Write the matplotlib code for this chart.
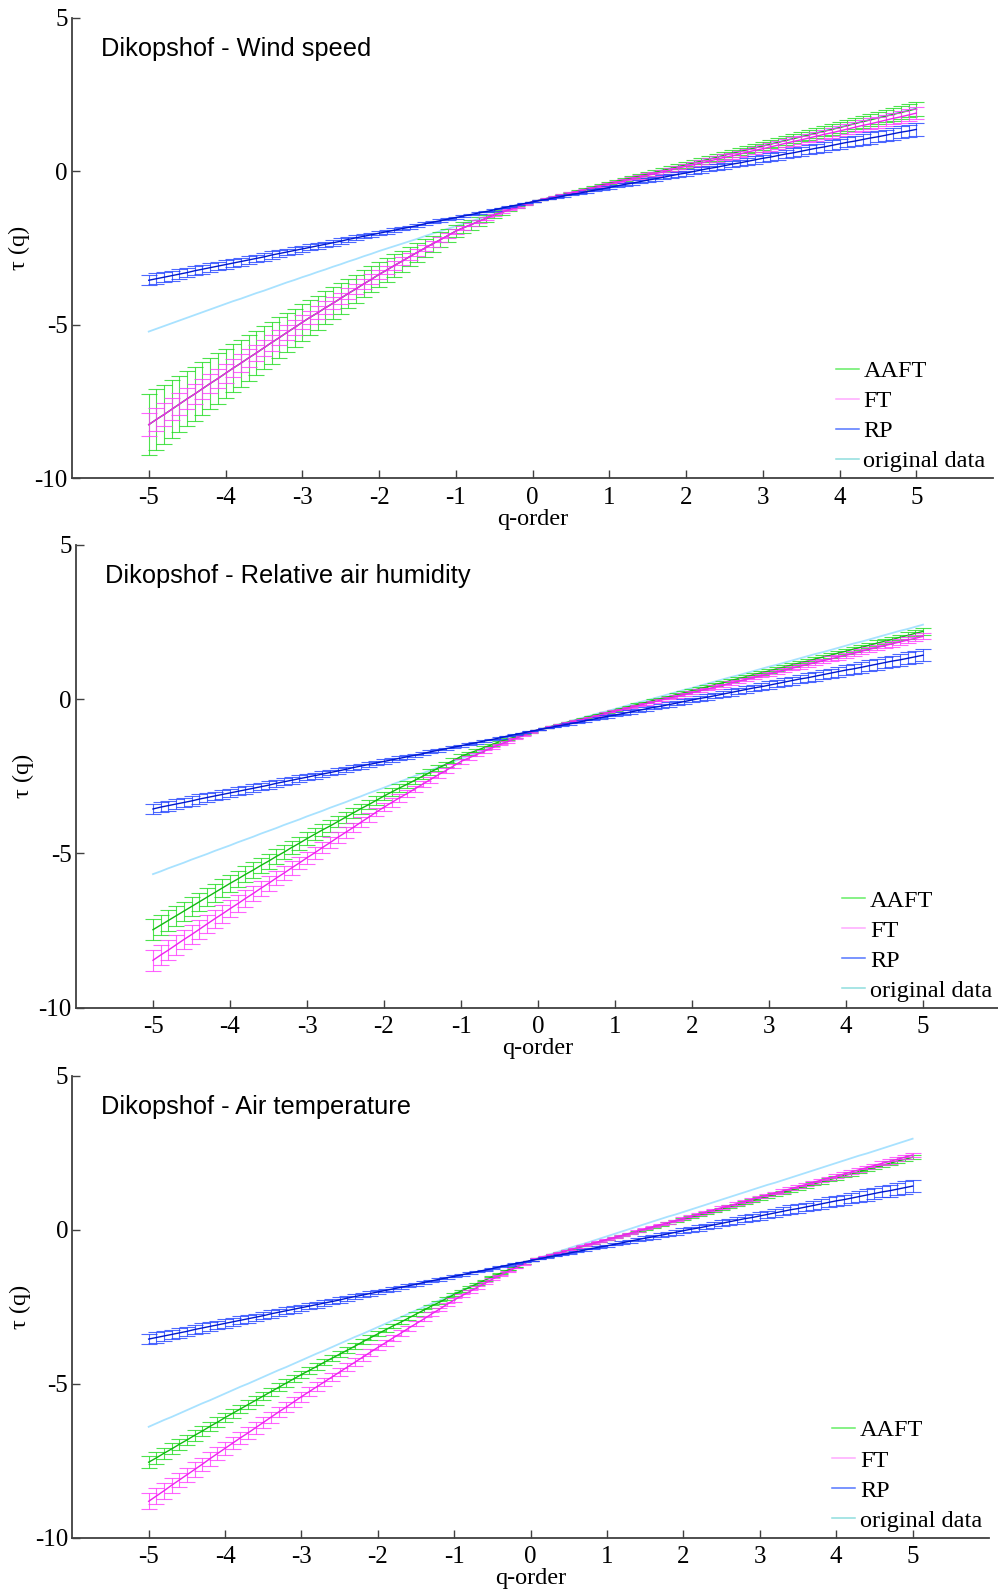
import numpy as np
import matplotlib
matplotlib.use("Agg")
import matplotlib.pyplot as plt
from matplotlib.lines import Line2D
from matplotlib.colors import to_rgba

plt.rcParams['font.family'] = ['Liberation Serif', 'DejaVu Serif']
plt.rcParams['axes.unicode_minus'] = False

# q-order grid (-5 ... 5, step 0.1)
q_order = np.linspace(-5, 5, 101)

panel_titles = ['Dikopshof - Wind speed',
                'Dikopshof - Relative air humidity',
                'Dikopshof - Air temperature']
legend_labels = ['AAFT', 'FT', 'RP', 'original data']
x_ticks = [-5, -4, -3, -2, -1, 0, 1, 2, 3, 4, 5]
y_ticks = [-10, -5, 0, 5]

# ---------------- Panel 1 : Wind speed ----------------
tau_aaft_wind = [
    -8.25, -8.08, -7.92, -7.75, -7.58, -7.41, -7.25, -7.08, -6.91, -6.75,
    -6.58, -6.41, -6.25, -6.08, -5.92, -5.75, -5.58, -5.42, -5.25, -5.09,
    -4.92, -4.76, -4.61, -4.45, -4.30, -4.14, -3.98, -3.83, -3.67, -3.52,
    -3.36, -3.22, -3.07, -2.93, -2.78, -2.64, -2.50, -2.36, -2.23, -2.09,
    -1.95, -1.84, -1.74, -1.63, -1.53, -1.42, -1.34, -1.25, -1.17, -1.08,
    -1.00, -0.94, -0.88, -0.82, -0.76, -0.70, -0.64, -0.58, -0.52, -0.45,
    -0.39, -0.33, -0.27, -0.21, -0.15, -0.09, -0.03, 0.03, 0.09, 0.15,
    0.21, 0.27, 0.33, 0.39, 0.45, 0.52, 0.58, 0.64, 0.70, 0.76,
    0.82, 0.88, 0.94, 1.00, 1.06, 1.12, 1.18, 1.24, 1.30, 1.36,
    1.42, 1.48, 1.55, 1.61, 1.67, 1.73, 1.79, 1.85, 1.91, 1.97,
    2.03]
tau_ft_wind = [
    -8.25, -8.08, -7.92, -7.75, -7.58, -7.41, -7.25, -7.08, -6.91, -6.75,
    -6.58, -6.41, -6.25, -6.08, -5.92, -5.75, -5.58, -5.42, -5.25, -5.09,
    -4.92, -4.76, -4.61, -4.45, -4.30, -4.14, -3.98, -3.83, -3.67, -3.52,
    -3.36, -3.22, -3.07, -2.93, -2.78, -2.64, -2.50, -2.36, -2.23, -2.09,
    -1.95, -1.84, -1.74, -1.63, -1.53, -1.42, -1.34, -1.25, -1.17, -1.08,
    -1.00, -0.94, -0.88, -0.83, -0.77, -0.71, -0.65, -0.60, -0.54, -0.48,
    -0.42, -0.36, -0.31, -0.25, -0.19, -0.13, -0.08, -0.02, 0.04, 0.10,
    0.16, 0.21, 0.27, 0.33, 0.39, 0.45, 0.50, 0.56, 0.62, 0.68,
    0.73, 0.79, 0.85, 0.91, 0.97, 1.02, 1.08, 1.14, 1.20, 1.25,
    1.31, 1.37, 1.43, 1.49, 1.54, 1.60, 1.66, 1.72, 1.77, 1.83,
    1.89]
tau_rp_wind = [
    -3.55, -3.50, -3.45, -3.40, -3.35, -3.30, -3.24, -3.19, -3.14, -3.09,
    -3.04, -2.99, -2.94, -2.89, -2.84, -2.79, -2.73, -2.68, -2.63, -2.58,
    -2.53, -2.48, -2.43, -2.38, -2.33, -2.28, -2.22, -2.17, -2.12, -2.07,
    -2.02, -1.97, -1.92, -1.87, -1.82, -1.77, -1.71, -1.66, -1.61, -1.56,
    -1.51, -1.46, -1.41, -1.36, -1.31, -1.26, -1.20, -1.15, -1.10, -1.05,
    -1.00, -0.95, -0.91, -0.86, -0.81, -0.76, -0.72, -0.67, -0.62, -0.58,
    -0.53, -0.48, -0.43, -0.39, -0.34, -0.29, -0.25, -0.20, -0.15, -0.10,
    -0.06, -0.01, 0.04, 0.09, 0.13, 0.18, 0.23, 0.27, 0.32, 0.37,
    0.42, 0.46, 0.51, 0.56, 0.60, 0.65, 0.70, 0.75, 0.79, 0.84,
    0.89, 0.94, 0.98, 1.03, 1.08, 1.12, 1.17, 1.22, 1.27, 1.31,
    1.36]
tau_orig_wind = [
    -5.22, -5.13, -5.04, -4.95, -4.86, -4.77, -4.68, -4.59, -4.50, -4.41,
    -4.32, -4.23, -4.15, -4.06, -3.97, -3.89, -3.80, -3.71, -3.62, -3.54,
    -3.45, -3.37, -3.28, -3.20, -3.11, -3.03, -2.94, -2.86, -2.77, -2.69,
    -2.60, -2.52, -2.44, -2.36, -2.28, -2.20, -2.11, -2.03, -1.95, -1.87,
    -1.79, -1.71, -1.63, -1.55, -1.47, -1.40, -1.32, -1.24, -1.16, -1.08,
    -1.00, -0.94, -0.88, -0.82, -0.76, -0.70, -0.63, -0.57, -0.51, -0.45,
    -0.39, -0.33, -0.27, -0.21, -0.15, -0.09, -0.02, 0.04, 0.10, 0.16,
    0.22, 0.28, 0.34, 0.40, 0.46, 0.53, 0.59, 0.65, 0.71, 0.77,
    0.83, 0.89, 0.95, 1.01, 1.07, 1.14, 1.20, 1.26, 1.32, 1.38,
    1.44, 1.50, 1.56, 1.62, 1.68, 1.75, 1.81, 1.87, 1.93, 1.99,
    2.05]
err_aaft_wind = [
    1.00, 0.98, 0.96, 0.94, 0.92, 0.90, 0.88, 0.86, 0.84, 0.82,
    0.80, 0.78, 0.76, 0.74, 0.72, 0.70, 0.68, 0.66, 0.64, 0.62,
    0.60, 0.58, 0.56, 0.54, 0.52, 0.50, 0.48, 0.46, 0.44, 0.42,
    0.40, 0.38, 0.36, 0.34, 0.32, 0.30, 0.28, 0.26, 0.24, 0.22,
    0.20, 0.18, 0.16, 0.14, 0.12, 0.10, 0.08, 0.06, 0.04, 0.02,
    0.00, 0.00, 0.01, 0.01, 0.02, 0.02, 0.03, 0.03, 0.04, 0.04,
    0.04, 0.05, 0.05, 0.06, 0.06, 0.07, 0.07, 0.07, 0.08, 0.08,
    0.09, 0.09, 0.10, 0.10, 0.11, 0.11, 0.11, 0.12, 0.12, 0.13,
    0.13, 0.14, 0.14, 0.15, 0.15, 0.15, 0.16, 0.16, 0.17, 0.17,
    0.18, 0.18, 0.18, 0.19, 0.19, 0.20, 0.20, 0.21, 0.21, 0.22,
    0.22]
err_ft_wind = [
    0.38, 0.37, 0.36, 0.36, 0.35, 0.34, 0.33, 0.33, 0.32, 0.31,
    0.30, 0.30, 0.29, 0.28, 0.27, 0.27, 0.26, 0.25, 0.24, 0.24,
    0.23, 0.22, 0.21, 0.21, 0.20, 0.19, 0.18, 0.17, 0.17, 0.16,
    0.15, 0.14, 0.14, 0.13, 0.12, 0.11, 0.11, 0.10, 0.09, 0.08,
    0.08, 0.07, 0.06, 0.05, 0.05, 0.04, 0.03, 0.02, 0.02, 0.01,
    0.00, 0.00, 0.01, 0.01, 0.02, 0.02, 0.02, 0.03, 0.03, 0.04,
    0.04, 0.04, 0.05, 0.05, 0.06, 0.06, 0.06, 0.07, 0.07, 0.08,
    0.08, 0.08, 0.09, 0.09, 0.10, 0.10, 0.10, 0.11, 0.11, 0.12,
    0.12, 0.12, 0.13, 0.13, 0.14, 0.14, 0.14, 0.15, 0.15, 0.16,
    0.16, 0.16, 0.17, 0.17, 0.18, 0.18, 0.18, 0.19, 0.19, 0.20,
    0.20]

# ---------------- Panel 2 : Relative air humidity ----------------
tau_aaft_hum = [
    -7.47, -7.32, -7.17, -7.02, -6.87, -6.72, -6.57, -6.42, -6.27, -6.12,
    -5.97, -5.83, -5.68, -5.54, -5.39, -5.25, -5.10, -4.96, -4.81, -4.67,
    -4.52, -4.38, -4.24, -4.11, -3.97, -3.83, -3.69, -3.55, -3.42, -3.28,
    -3.14, -3.01, -2.88, -2.76, -2.63, -2.50, -2.37, -2.24, -2.12, -1.99,
    -1.86, -1.76, -1.67, -1.57, -1.48, -1.38, -1.30, -1.23, -1.15, -1.08,
    -1.00, -0.94, -0.87, -0.81, -0.74, -0.68, -0.62, -0.55, -0.49, -0.43,
    -0.36, -0.30, -0.23, -0.17, -0.11, -0.04, 0.02, 0.08, 0.15, 0.21,
    0.28, 0.34, 0.40, 0.47, 0.53, 0.60, 0.66, 0.72, 0.79, 0.85,
    0.91, 0.98, 1.04, 1.11, 1.17, 1.23, 1.30, 1.36, 1.42, 1.49,
    1.55, 1.62, 1.68, 1.74, 1.81, 1.87, 1.93, 2.00, 2.06, 2.13,
    2.19]
tau_ft_hum = [
    -8.46, -8.29, -8.13, -7.96, -7.79, -7.63, -7.46, -7.29, -7.12, -6.96,
    -6.79, -6.63, -6.46, -6.30, -6.13, -5.97, -5.80, -5.64, -5.47, -5.31,
    -5.14, -4.98, -4.81, -4.65, -4.48, -4.32, -4.16, -3.99, -3.83, -3.66,
    -3.50, -3.35, -3.20, -3.06, -2.91, -2.76, -2.61, -2.46, -2.32, -2.17,
    -2.02, -1.91, -1.80, -1.69, -1.58, -1.47, -1.38, -1.28, -1.19, -1.09,
    -1.00, -0.94, -0.88, -0.82, -0.76, -0.70, -0.64, -0.58, -0.52, -0.45,
    -0.39, -0.33, -0.27, -0.21, -0.15, -0.09, -0.03, 0.03, 0.09, 0.15,
    0.21, 0.27, 0.33, 0.39, 0.45, 0.52, 0.58, 0.64, 0.70, 0.76,
    0.82, 0.88, 0.94, 1.00, 1.06, 1.12, 1.18, 1.24, 1.30, 1.36,
    1.42, 1.48, 1.55, 1.61, 1.67, 1.73, 1.79, 1.85, 1.91, 1.97,
    2.03]
tau_rp_hum = [
    -3.56, -3.50, -3.45, -3.40, -3.35, -3.30, -3.24, -3.19, -3.14, -3.09,
    -3.04, -2.99, -2.94, -2.89, -2.84, -2.79, -2.73, -2.68, -2.63, -2.58,
    -2.53, -2.48, -2.43, -2.38, -2.33, -2.28, -2.22, -2.17, -2.12, -2.07,
    -2.02, -1.97, -1.92, -1.87, -1.82, -1.77, -1.71, -1.66, -1.61, -1.56,
    -1.51, -1.46, -1.41, -1.36, -1.31, -1.26, -1.20, -1.15, -1.10, -1.05,
    -1.00, -0.95, -0.90, -0.85, -0.81, -0.76, -0.71, -0.66, -0.61, -0.56,
    -0.52, -0.47, -0.42, -0.37, -0.32, -0.27, -0.23, -0.18, -0.13, -0.08,
    -0.03, 0.02, 0.06, 0.11, 0.16, 0.21, 0.26, 0.31, 0.36, 0.40,
    0.45, 0.50, 0.55, 0.60, 0.65, 0.69, 0.74, 0.79, 0.84, 0.89,
    0.94, 0.98, 1.03, 1.08, 1.13, 1.18, 1.23, 1.27, 1.32, 1.37,
    1.42]
tau_orig_hum = [
    -5.67, -5.58, -5.48, -5.39, -5.30, -5.20, -5.11, -5.02, -4.92, -4.83,
    -4.74, -4.64, -4.55, -4.46, -4.36, -4.27, -4.18, -4.08, -3.99, -3.90,
    -3.80, -3.71, -3.62, -3.52, -3.43, -3.34, -3.24, -3.15, -3.05, -2.96,
    -2.87, -2.77, -2.68, -2.59, -2.49, -2.40, -2.31, -2.21, -2.12, -2.03,
    -1.93, -1.84, -1.75, -1.65, -1.56, -1.47, -1.37, -1.28, -1.19, -1.09,
    -1.00, -0.93, -0.86, -0.80, -0.73, -0.66, -0.59, -0.52, -0.45, -0.39,
    -0.32, -0.25, -0.18, -0.11, -0.05, 0.02, 0.09, 0.16, 0.23, 0.30,
    0.36, 0.43, 0.50, 0.57, 0.64, 0.71, 0.77, 0.84, 0.91, 0.98,
    1.05, 1.11, 1.18, 1.25, 1.32, 1.39, 1.46, 1.52, 1.59, 1.66,
    1.73, 1.80, 1.86, 1.93, 2.00, 2.07, 2.14, 2.21, 2.27, 2.34,
    2.41]
err_aaft_hum = [
    0.34, 0.33, 0.33, 0.32, 0.31, 0.31, 0.30, 0.29, 0.29, 0.28,
    0.27, 0.27, 0.26, 0.25, 0.24, 0.24, 0.23, 0.22, 0.22, 0.21,
    0.20, 0.20, 0.19, 0.18, 0.18, 0.17, 0.16, 0.16, 0.15, 0.14,
    0.14, 0.13, 0.12, 0.12, 0.11, 0.10, 0.10, 0.09, 0.08, 0.07,
    0.07, 0.06, 0.05, 0.05, 0.04, 0.03, 0.03, 0.02, 0.01, 0.01,
    0.00, 0.00, 0.00, 0.01, 0.01, 0.01, 0.01, 0.01, 0.02, 0.02,
    0.02, 0.02, 0.02, 0.03, 0.03, 0.03, 0.03, 0.03, 0.04, 0.04,
    0.04, 0.04, 0.04, 0.05, 0.05, 0.05, 0.05, 0.05, 0.06, 0.06,
    0.06, 0.06, 0.06, 0.07, 0.07, 0.07, 0.07, 0.07, 0.08, 0.08,
    0.08, 0.08, 0.08, 0.09, 0.09, 0.09, 0.09, 0.09, 0.10, 0.10,
    0.10]
err_ft_hum = list(err_aaft_hum)   # read identical to AAFT in this panel

# ---------------- Panel 3 : Air temperature ----------------
tau_aaft_temp = [
    -7.55, -7.41, -7.26, -7.12, -6.97, -6.83, -6.68, -6.54, -6.39, -6.25,
    -6.10, -5.96, -5.82, -5.68, -5.54, -5.40, -5.26, -5.12, -4.98, -4.84,
    -4.70, -4.57, -4.44, -4.30, -4.17, -4.04, -3.91, -3.78, -3.64, -3.51,
    -3.38, -3.25, -3.12, -3.00, -2.87, -2.74, -2.61, -2.48, -2.36, -2.23,
    -2.10, -1.98, -1.87, -1.75, -1.64, -1.52, -1.42, -1.31, -1.21, -1.10,
    -1.00, -0.93, -0.87, -0.80, -0.73, -0.66, -0.60, -0.53, -0.46, -0.40,
    -0.33, -0.26, -0.19, -0.13, -0.06, 0.01, 0.08, 0.14, 0.21, 0.28,
    0.34, 0.41, 0.48, 0.55, 0.61, 0.68, 0.75, 0.81, 0.88, 0.95,
    1.02, 1.08, 1.15, 1.22, 1.28, 1.35, 1.42, 1.49, 1.55, 1.62,
    1.69, 1.76, 1.82, 1.89, 1.96, 2.02, 2.09, 2.16, 2.23, 2.29,
    2.36]
tau_ft_temp = [
    -8.82, -8.65, -8.48, -8.30, -8.13, -7.96, -7.79, -7.62, -7.44, -7.27,
    -7.10, -6.93, -6.76, -6.60, -6.43, -6.26, -6.09, -5.92, -5.76, -5.59,
    -5.42, -5.26, -5.10, -4.94, -4.78, -4.62, -4.46, -4.30, -4.14, -3.98,
    -3.82, -3.67, -3.51, -3.36, -3.20, -3.05, -2.90, -2.74, -2.59, -2.43,
    -2.28, -2.14, -2.01, -1.87, -1.74, -1.60, -1.48, -1.36, -1.24, -1.12,
    -1.00, -0.93, -0.86, -0.79, -0.73, -0.66, -0.59, -0.52, -0.45, -0.38,
    -0.31, -0.25, -0.18, -0.11, -0.04, 0.03, 0.10, 0.17, 0.23, 0.30,
    0.37, 0.44, 0.51, 0.58, 0.65, 0.72, 0.78, 0.85, 0.92, 0.99,
    1.06, 1.13, 1.20, 1.26, 1.33, 1.40, 1.47, 1.54, 1.61, 1.68,
    1.74, 1.81, 1.88, 1.95, 2.02, 2.09, 2.16, 2.22, 2.29, 2.36,
    2.43]
tau_rp_temp = [
    -3.55, -3.50, -3.45, -3.40, -3.35, -3.30, -3.24, -3.19, -3.14, -3.09,
    -3.04, -2.99, -2.94, -2.89, -2.84, -2.79, -2.73, -2.68, -2.63, -2.58,
    -2.53, -2.48, -2.43, -2.38, -2.33, -2.28, -2.22, -2.17, -2.12, -2.07,
    -2.02, -1.97, -1.92, -1.87, -1.82, -1.77, -1.71, -1.66, -1.61, -1.56,
    -1.51, -1.46, -1.41, -1.36, -1.31, -1.26, -1.20, -1.15, -1.10, -1.05,
    -1.00, -0.95, -0.90, -0.85, -0.81, -0.76, -0.71, -0.66, -0.61, -0.56,
    -0.52, -0.47, -0.42, -0.37, -0.32, -0.27, -0.23, -0.18, -0.13, -0.08,
    -0.03, 0.02, 0.06, 0.11, 0.16, 0.21, 0.26, 0.31, 0.36, 0.40,
    0.45, 0.50, 0.55, 0.60, 0.65, 0.69, 0.74, 0.79, 0.84, 0.89,
    0.94, 0.98, 1.03, 1.08, 1.13, 1.18, 1.23, 1.27, 1.32, 1.37,
    1.42]
tau_orig_temp = [
    -6.40, -6.29, -6.18, -6.08, -5.97, -5.86, -5.75, -5.64, -5.54, -5.43,
    -5.32, -5.21, -5.10, -5.00, -4.89, -4.78, -4.67, -4.56, -4.46, -4.35,
    -4.24, -4.13, -4.02, -3.92, -3.81, -3.70, -3.59, -3.48, -3.38, -3.27,
    -3.16, -3.05, -2.94, -2.84, -2.73, -2.62, -2.51, -2.40, -2.30, -2.19,
    -2.08, -1.97, -1.86, -1.76, -1.65, -1.54, -1.43, -1.32, -1.22, -1.11,
    -1.00, -0.92, -0.84, -0.76, -0.68, -0.60, -0.52, -0.45, -0.37, -0.29,
    -0.21, -0.13, -0.05, 0.03, 0.11, 0.19, 0.27, 0.35, 0.43, 0.50,
    0.58, 0.66, 0.74, 0.82, 0.90, 0.98, 1.06, 1.14, 1.22, 1.30,
    1.38, 1.46, 1.53, 1.61, 1.69, 1.77, 1.85, 1.93, 2.01, 2.09,
    2.17, 2.25, 2.33, 2.41, 2.48, 2.56, 2.64, 2.72, 2.80, 2.88,
    2.96]
err_aaft_temp = [
    0.19, 0.19, 0.18, 0.18, 0.17, 0.17, 0.17, 0.16, 0.16, 0.16,
    0.15, 0.15, 0.14, 0.14, 0.14, 0.13, 0.13, 0.13, 0.12, 0.12,
    0.11, 0.11, 0.11, 0.10, 0.10, 0.10, 0.09, 0.09, 0.08, 0.08,
    0.08, 0.07, 0.07, 0.06, 0.06, 0.06, 0.05, 0.05, 0.05, 0.04,
    0.04, 0.03, 0.03, 0.03, 0.02, 0.02, 0.02, 0.01, 0.01, 0.00,
    0.00, 0.00, 0.00, 0.00, 0.01, 0.01, 0.01, 0.01, 0.01, 0.01,
    0.01, 0.02, 0.02, 0.02, 0.02, 0.02, 0.02, 0.02, 0.03, 0.03,
    0.03, 0.03, 0.03, 0.03, 0.03, 0.04, 0.04, 0.04, 0.04, 0.04,
    0.04, 0.04, 0.04, 0.05, 0.05, 0.05, 0.05, 0.05, 0.05, 0.05,
    0.06, 0.06, 0.06, 0.06, 0.06, 0.06, 0.06, 0.07, 0.07, 0.07,
    0.07]
err_ft_temp = [
    0.26, 0.25, 0.25, 0.24, 0.24, 0.23, 0.23, 0.22, 0.22, 0.21,
    0.21, 0.20, 0.20, 0.19, 0.19, 0.18, 0.18, 0.17, 0.17, 0.16,
    0.16, 0.15, 0.15, 0.14, 0.14, 0.13, 0.12, 0.12, 0.11, 0.11,
    0.10, 0.10, 0.09, 0.09, 0.08, 0.08, 0.07, 0.07, 0.06, 0.06,
    0.05, 0.05, 0.04, 0.04, 0.03, 0.03, 0.02, 0.02, 0.01, 0.01,
    0.00, 0.00, 0.00, 0.00, 0.01, 0.01, 0.01, 0.01, 0.01, 0.01,
    0.01, 0.02, 0.02, 0.02, 0.02, 0.02, 0.02, 0.02, 0.03, 0.03,
    0.03, 0.03, 0.03, 0.03, 0.03, 0.04, 0.04, 0.04, 0.04, 0.04,
    0.04, 0.04, 0.04, 0.05, 0.05, 0.05, 0.05, 0.05, 0.05, 0.05,
    0.06, 0.06, 0.06, 0.06, 0.06, 0.06, 0.06, 0.07, 0.07, 0.07,
    0.07]

# RP surrogate spread (read alike in all three panels)
err_rp = [
    0.17, 0.17, 0.16, 0.16, 0.16, 0.15, 0.15, 0.15, 0.14, 0.14,
    0.14, 0.13, 0.13, 0.13, 0.12, 0.12, 0.12, 0.11, 0.11, 0.11,
    0.10, 0.10, 0.10, 0.09, 0.09, 0.09, 0.08, 0.08, 0.07, 0.07,
    0.07, 0.06, 0.06, 0.06, 0.05, 0.05, 0.05, 0.04, 0.04, 0.04,
    0.03, 0.03, 0.03, 0.02, 0.02, 0.02, 0.01, 0.01, 0.01, 0.00,
    0.00, 0.00, 0.01, 0.01, 0.02, 0.02, 0.02, 0.03, 0.03, 0.04,
    0.04, 0.04, 0.05, 0.05, 0.06, 0.06, 0.06, 0.07, 0.07, 0.08,
    0.08, 0.08, 0.09, 0.09, 0.10, 0.10, 0.10, 0.11, 0.11, 0.12,
    0.12, 0.12, 0.13, 0.13, 0.14, 0.14, 0.14, 0.15, 0.15, 0.16,
    0.16, 0.16, 0.17, 0.17, 0.18, 0.18, 0.18, 0.19, 0.19, 0.20,
    0.20]

panels = [
    dict(aaft=tau_aaft_wind, ft=tau_ft_wind, rp=tau_rp_wind, orig=tau_orig_wind,
         e_aaft=err_aaft_wind, e_ft=err_ft_wind, e_rp=err_rp),
    dict(aaft=tau_aaft_hum, ft=tau_ft_hum, rp=tau_rp_hum, orig=tau_orig_hum,
         e_aaft=err_aaft_hum, e_ft=err_ft_hum, e_rp=err_rp),
    dict(aaft=tau_aaft_temp, ft=tau_ft_temp, rp=tau_rp_temp, orig=tau_orig_temp,
         e_aaft=err_aaft_temp, e_ft=err_ft_temp, e_rp=err_rp),
]

# ---------------- styling ----------------
W, H = 998, 1591
fig = plt.figure(figsize=(W / 100, H / 100), dpi=100)


def px_rect(left, top, right, bottom):
    return [left / W, 1 - bottom / H, (right - left) / W, (bottom - top) / H]


rects = [px_rect(72, 17.6, 993, 478.4),
         px_rect(76, 544.7, 1000, 1007.8),
         px_rect(72.3, 1075.9, 989, 1537.6)]

C_AAFT_BAR, C_AAFT_LINE = '#22dd22', '#12b812'
C_FT_BAR, C_FT_LINE = '#ff3cff', '#ee22ee'
C_RP_BAR, C_RP_LINE = '#2244ff', '#0018cc'
C_ORIG = '#a8e2ff'
LEG_COLORS = ['#66ee66', '#ffaaff', '#5577ff', '#8fdede']
AX_COLOR = '#404040'

for rect, title, d in zip(rects, panel_titles, panels):
    ax = fig.add_axes(rect)
    ax.plot(q_order, d['orig'], color=C_ORIG, lw=1.3, zorder=1)
    for key, ekey, cb, cl, z in [('aaft', 'e_aaft', C_AAFT_BAR, C_AAFT_LINE, 2),
                                  ('ft', 'e_ft', C_FT_BAR, C_FT_LINE, 3),
                                  ('rp', 'e_rp', C_RP_BAR, C_RP_LINE, 4)]:
        ax.errorbar(q_order, d[key], yerr=d[ekey], fmt='-', color=cl, lw=1.0,
                    ecolor=to_rgba(cb, 0.8), elinewidth=0.8, capsize=5.6,
                    capthick=0.8, zorder=z)

    ax.set_xlim(-6, 6)
    ax.set_ylim(-10, 5)
    ax.set_xticks(x_ticks)
    ax.set_yticks(y_ticks)
    for s in ['top', 'right']:
        ax.spines[s].set_visible(False)
    for s in ['left', 'bottom']:
        ax.spines[s].set_color(AX_COLOR)
        ax.spines[s].set_linewidth(1.3)
    ax.tick_params(axis='both', direction='in', length=6, width=1.0,
                   color=AX_COLOR, labelcolor='black', labelsize=18)
    ax.tick_params(axis='x', pad=6)
    ax.tick_params(axis='y', pad=3)

    ax.set_xlabel('q-order', fontsize=17.5, labelpad=0)
    ax.set_ylabel('τ (q)', fontsize=17.5, labelpad=3)

    ax.text(0.031, 0.932, title, transform=ax.transAxes, fontsize=18.3,
            family=['Liberation Sans', 'DejaVu Sans'], ha='left', va='center')

    handles = [Line2D([0], [0], color=c, lw=1.1) for c in LEG_COLORS]
    ax.legend(handles, legend_labels, loc='lower left',
              bbox_to_anchor=(0.829, 0.013), frameon=False, fontsize=17.5,
              handlelength=0.95, handletextpad=0.2, labelspacing=0.33,
              borderpad=0, borderaxespad=0)

fig.savefig('out.png', dpi=100)
